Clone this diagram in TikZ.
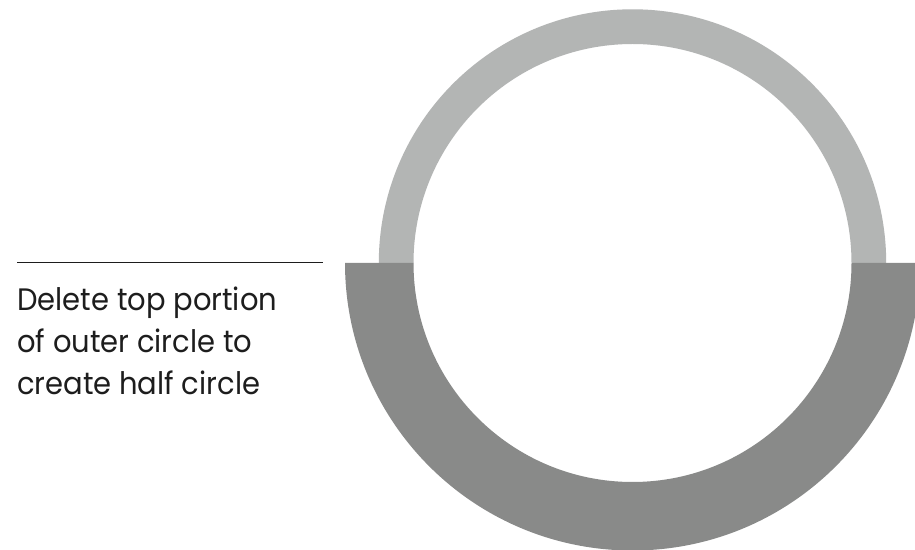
\documentclass[tikz,border=0pt]{standalone}
\usepackage{fontspec}
\setmainfont[FakeStretch=0.935]{Poppins}
\definecolor{ringlight}{HTML}{B3B5B4}
\definecolor{ringdark}{HTML}{898A89}
\definecolor{textcol}{HTML}{1D1D1D}
\tikzset{
  lightpart/.style={fill=ringlight},
  darkpart/.style={fill=ringdark},
  rule/.style={draw=textcol, line width=1.2pt},
  caption/.style={anchor=base west, inner sep=0pt, text=textcol,
    font=\fontsize{31}{42}\selectfont}
}
\begin{document}
\begin{tikzpicture}[x=1pt,y=1pt]
\useasboundingbox[fill=white] (0,0) rectangle (915,549);
\clip (0,0) rectangle (915,549);
\coordinate (c) at (632.5,286);
% light upper half ring
\fill[lightpart] ([xshift=253.7pt]c) arc[start angle=0,end angle=180,radius=253.7]
  -- ([xshift=-219pt]c) arc[start angle=180,end angle=0,radius=219] -- cycle;
% dark lower half ring
\fill[darkpart] ([xshift=-287.5pt]c) arc[start angle=180,end angle=360,radius=287.5]
  -- ([xshift=219pt]c) arc[start angle=0,end angle=-180,radius=219] -- cycle;
% rule line
\coordinate (l1) at (17,286.3);
\coordinate (l2) at (323,286.3);
\draw[rule] (l1) -- (l2);
% caption
\node[caption] (t1) at (17,238.3) {Delete top portion};
\node[caption] (t2) at (17,196.7) {of outer circle to};
\node[caption] (t3) at (17,154) {create half circle};
\end{tikzpicture}
\end{document}
